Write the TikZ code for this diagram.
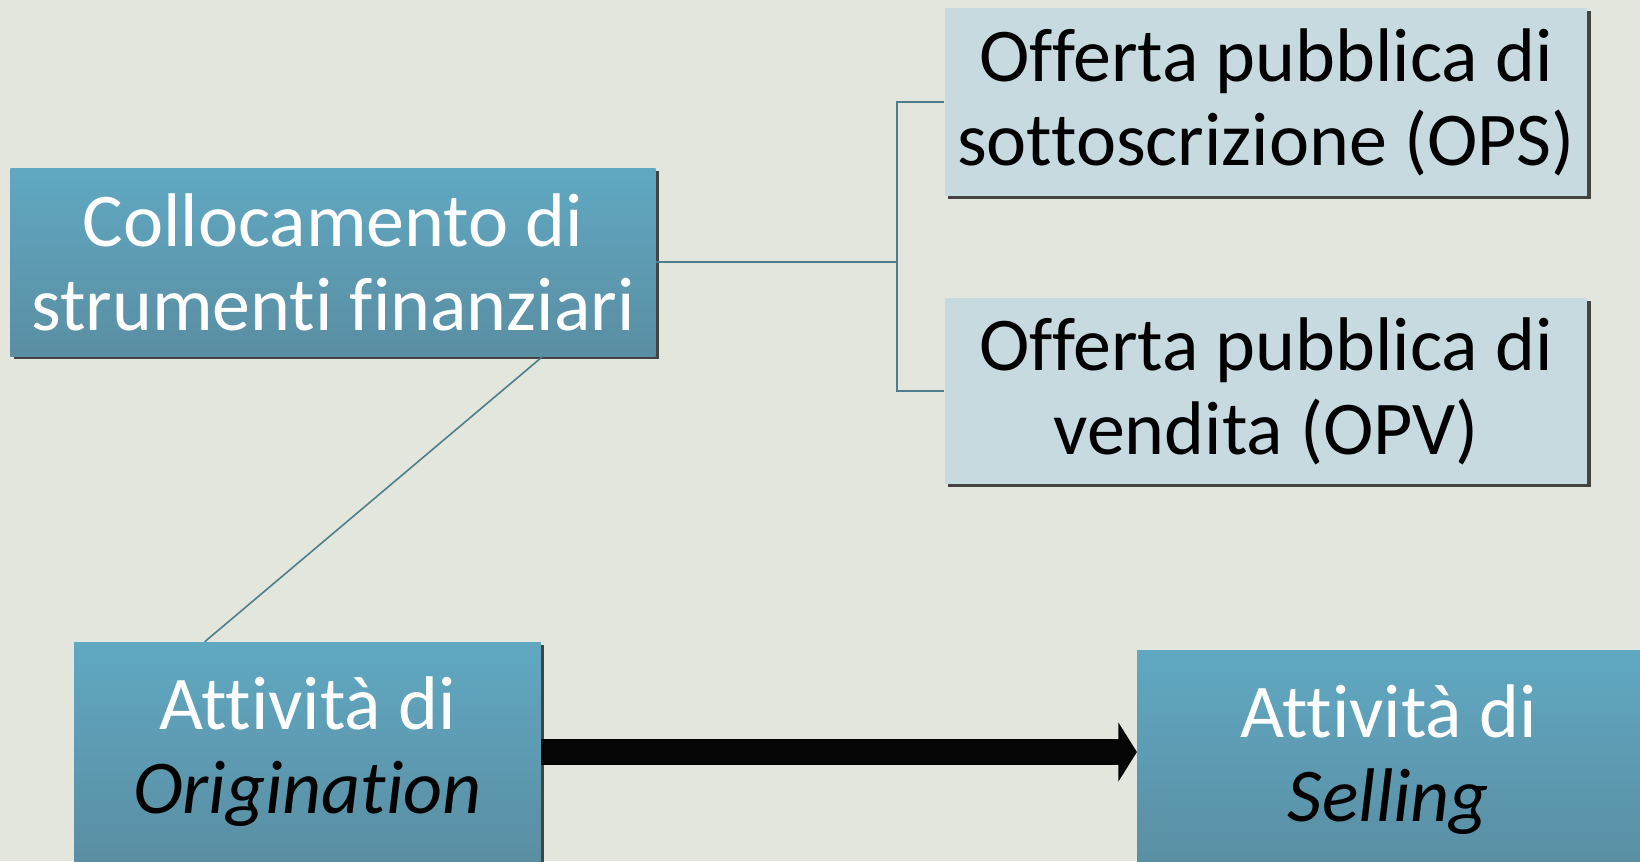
\documentclass[tikz,border=0pt]{standalone}
\usepackage{fontspec}
\setmainfont{Carlito}[Ligatures=NoCommon]
\usepackage{xcolor}
\usepackage{tikz}
\usetikzlibrary{arrows.meta,shadows,calc}

\definecolor{sfondo}{HTML}{E3E6DD}
\definecolor{bluesu}{HTML}{60A8C2}
\definecolor{bluegiu}{HTML}{5A8EA2}
\definecolor{chiaro}{HTML}{C7DAE0}
\definecolor{linea}{HTML}{4F7D8D}

\tikzset{
  scuro/.style={rectangle, inner sep=0pt, top color=bluesu, bottom color=bluegiu,
    text=white, align=center, font=\fontsize{57}{63}\selectfont,
    drop shadow={shadow xshift=2.5pt, shadow yshift=-2.5pt, opacity=0.7, fill=black}},
  pallido/.style={rectangle, inner sep=0pt, fill=chiaro, text=black, align=center,
    font=\fontsize{57}{63}\selectfont,
    drop shadow={shadow xshift=2.5pt, shadow yshift=-2.5pt, opacity=0.7, fill=black}},
  conn/.style={draw=linea, line width=1.2pt}
}

\begin{document}
\begin{tikzpicture}[x=0.75pt,y=-0.75pt]
			% Sfondo
			\fill[sfondo] (0,0) rectangle (1640,861);
			\useasboundingbox (0,0) rectangle (1640,861);
			\clip (0,0) rectangle (1640,861);
			% Riquadri
			\node[scuro, minimum width=484pt, minimum height=141pt] (coll) at (333,262) {Collocamento di\\strumenti finanziari};
			\node[pallido, minimum width=482pt, minimum height=141pt] (ops) at (1266,102) {Offerta pubblica di\\sottoscrizione (OPS)};
			\node[pallido, minimum width=482pt, minimum height=139.5pt] (opv) at (1266,391) {Offerta pubblica di\\vendita (OPV)};
			\node[scuro, minimum width=350pt, minimum height=165pt] (orig) at (307.5,752) {Attività di\\\textcolor{black}{\textit{Origination}}};
			\node[scuro, minimum width=377pt, minimum height=165pt] (sell) at (1388.5,760) {Attività di\\\textcolor{black}{\textit{Selling}}};
			% Collegamenti
			\draw[conn] (coll.east) -- ++(241,0) coordinate (fork);
			\draw[conn] (ops.west) -| (fork) |- (opv.west);
			\draw[conn] ($(coll.south west)!0.825!(coll.south east)$) -- ($(orig.north west)!0.28!(orig.north east)$);
			\draw[line width=20pt, color=black!98, -{Triangle[length=14pt,width=44pt]}] (orig.east) -- (orig.east -| sell.west);
		\end{tikzpicture}
\end{document}
